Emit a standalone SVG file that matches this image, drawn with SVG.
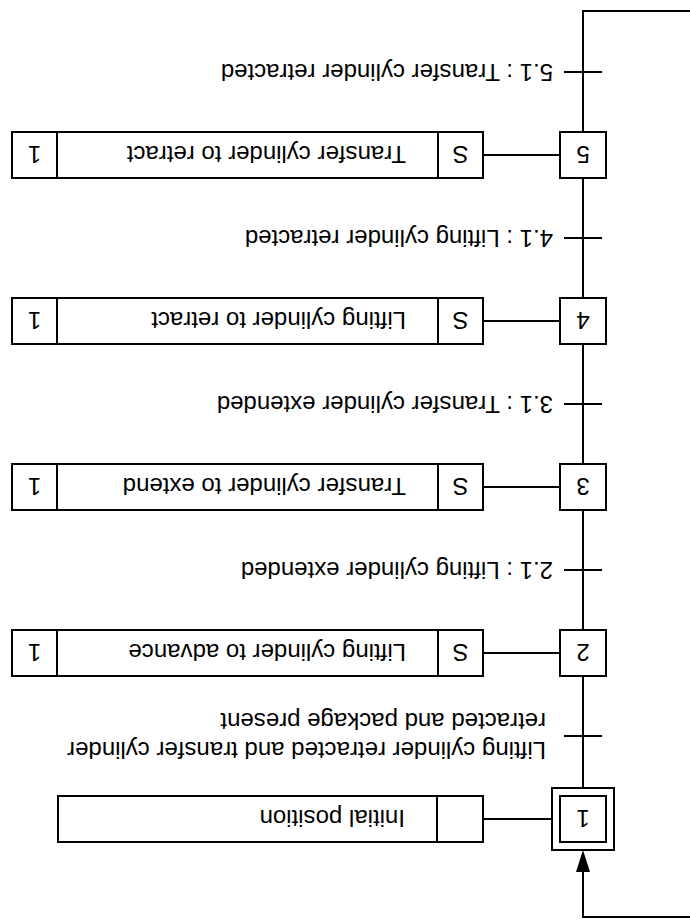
<svg xmlns="http://www.w3.org/2000/svg" width="690" height="920" viewBox="0 0 690 920">
  <style>
    .box { fill: #fff; stroke: #000; stroke-width: 2; }
    .ln { fill: none; stroke: #000; stroke-width: 2; }
    text { font-family: "Liberation Sans", Arial, sans-serif; font-size: 24px; fill: #000; }
    .c { text-anchor: middle; }
  </style>
  <defs>
    <marker id="arrow" markerUnits="userSpaceOnUse" markerWidth="22" markerHeight="14" viewBox="0 0 22 14" refX="0" refY="7" orient="auto">
      <path d="M0,0 L22,7 L0,14 z" fill="#000"/>
    </marker>
  </defs>
  <rect width="690" height="920" fill="#fff"/>
  <g transform="rotate(180 345 460)">
    <g id="connectors">
      <path class="ln" d="M0,3 H107 V48" marker-end="url(#arrow)"/>
      <line class="ln" x1="107" y1="132" x2="107" y2="244"/>
      <line class="ln" x1="107" y1="290" x2="107" y2="410"/>
      <line class="ln" x1="107" y1="456" x2="107" y2="576"/>
      <line class="ln" x1="107" y1="622" x2="107" y2="742"/>
      <path class="ln" d="M107,788 V909 H0"/>
      <line class="ln" x1="88" y1="184" x2="126" y2="184"/>
      <line class="ln" x1="88" y1="350" x2="126" y2="350"/>
      <line class="ln" x1="88" y1="516" x2="126" y2="516"/>
      <line class="ln" x1="88" y1="682" x2="126" y2="682"/>
      <line class="ln" x1="88" y1="848" x2="126" y2="848"/>
      <line class="ln" x1="138" y1="101" x2="207" y2="101"/>
      <line class="ln" x1="130" y1="267" x2="207" y2="267"/>
      <line class="ln" x1="130" y1="433" x2="207" y2="433"/>
      <line class="ln" x1="130" y1="599" x2="207" y2="599"/>
      <line class="ln" x1="130" y1="765" x2="207" y2="765"/>
    </g>
    <g id="step1">
      <rect class="box" x="76" y="70" width="62" height="62"/>
      <rect class="box" x="84" y="78" width="46" height="46"/>
      <text class="c" x="107" y="110">1</text>
    </g>
    <g id="action1">
      <rect class="box" x="207" y="78" width="425" height="46"/>
      <line class="ln" x1="253" y1="78" x2="253" y2="124"/>
      <text x="285" y="110">Initial position</text>
    </g>
    <g id="transition1">
      <text x="144" y="178">Lifting cylinder retracted and transfer cylinder</text>
      <text x="144" y="207">retracted and package present</text>
    </g>
    <g id="step2">
      <rect class="box" x="84" y="244" width="46" height="46"/>
      <text class="c" x="107" y="276">2</text>
    </g>
    <g id="action2">
      <rect class="box" x="207" y="244" width="471" height="46"/>
      <line class="ln" x1="252" y1="244" x2="252" y2="290"/>
      <line class="ln" x1="633" y1="244" x2="633" y2="290"/>
      <text class="c" x="229.5" y="276">S</text>
      <text x="284" y="276">Lifting cylinder to advance</text>
      <text class="c" x="655.5" y="276">1</text>
    </g>
    <g id="transition2">
      <text x="137" y="358">2.1 : Lifting cylinder extended</text>
    </g>
    <g id="step3">
      <rect class="box" x="84" y="410" width="46" height="46"/>
      <text class="c" x="107" y="442">3</text>
    </g>
    <g id="action3">
      <rect class="box" x="207" y="410" width="471" height="46"/>
      <line class="ln" x1="252" y1="410" x2="252" y2="456"/>
      <line class="ln" x1="633" y1="410" x2="633" y2="456"/>
      <text class="c" x="229.5" y="442">S</text>
      <text x="284" y="442">Transfer cylinder to extend</text>
      <text class="c" x="655.5" y="442">1</text>
    </g>
    <g id="transition3">
      <text x="137" y="524">3.1 : Transfer cylinder extended</text>
    </g>
    <g id="step4">
      <rect class="box" x="84" y="576" width="46" height="46"/>
      <text class="c" x="107" y="608">4</text>
    </g>
    <g id="action4">
      <rect class="box" x="207" y="576" width="471" height="46"/>
      <line class="ln" x1="252" y1="576" x2="252" y2="622"/>
      <line class="ln" x1="633" y1="576" x2="633" y2="622"/>
      <text class="c" x="229.5" y="608">S</text>
      <text x="284" y="608">Lifting cylinder to retract</text>
      <text class="c" x="655.5" y="608">1</text>
    </g>
    <g id="transition4">
      <text x="137" y="690">4.1 : Lifting cylinder retracted</text>
    </g>
    <g id="step5">
      <rect class="box" x="84" y="742" width="46" height="46"/>
      <text class="c" x="107" y="774">5</text>
    </g>
    <g id="action5">
      <rect class="box" x="207" y="742" width="471" height="46"/>
      <line class="ln" x1="252" y1="742" x2="252" y2="788"/>
      <line class="ln" x1="633" y1="742" x2="633" y2="788"/>
      <text class="c" x="229.5" y="774">S</text>
      <text x="284" y="774">Transfer cylinder to retract</text>
      <text class="c" x="655.5" y="774">1</text>
    </g>
    <g id="transition5">
      <text x="137" y="856">5.1 : Transfer cylinder retracted</text>
    </g>
  </g>
</svg>
